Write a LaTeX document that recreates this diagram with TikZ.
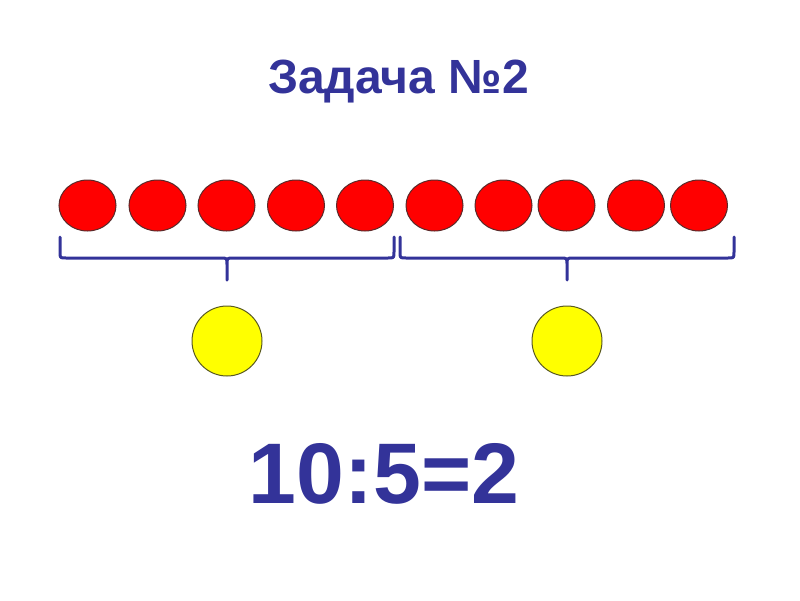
\documentclass[tikz,border=0pt]{standalone}
\usepackage{fontspec}
\setmainfont{Liberation Sans}
\usetikzlibrary{shapes.geometric}
\definecolor{taskblue}{HTML}{333399}
\definecolor{beadred}{HTML}{FF0000}
\definecolor{beadedge}{HTML}{5A2A2A}
\definecolor{sunyellow}{HTML}{FFFF00}
\definecolor{sunedge}{HTML}{5A5A20}

\begin{document}
\begin{tikzpicture}[x=1pt, y=-1pt, line width=1pt,
  bead/.style={ellipse, draw=beadedge, fill=beadred, minimum width=57pt, minimum height=51pt, inner sep=0pt},
  sun/.style={circle, draw=sunedge, fill=sunyellow, minimum size=70pt, inner sep=0pt},
  bracket/.style={taskblue, line width=3pt, line join=round, line cap=round},
  caption/.style={text=taskblue, font=\bfseries, anchor=base, inner sep=0pt}]
  \useasboundingbox (0,0) rectangle (800,600);
  \node[caption, font=\bfseries\fontsize{48}{58}\selectfont] (title) at (398.5,93) {Задача №2};
  % ten beads
  \foreach \x [count=\i] in {87.5,157.5,226.5,296,365,434.5,503.5,566.5,636,699}
    \node[bead] (bead\i) at (\x,205.5) {};
  % two braces, five beads each
  \foreach \l/\m/\r in {60/227/394, 400/567/734}
    \draw[bracket] (\l,237) -- (\l,252) .. controls (\l,258) .. (\l+6,258)
      -- (\m-6,258) .. controls (\m,258) .. (\m,265) -- (\m,280)
      -- (\m,265) .. controls (\m,258) .. (\m+6,258)
      -- (\r-6,258) .. controls (\r,258) .. (\r,252) -- (\r,237);
  \node[sun] (sun1) at (227,341) {};
  \node[sun] (sun2) at (567,341) {};
  \node[caption, font=\bfseries\fontsize{86}{96}\selectfont] (answer) at (384,503) {10:5=2};
\end{tikzpicture}
\end{document}
